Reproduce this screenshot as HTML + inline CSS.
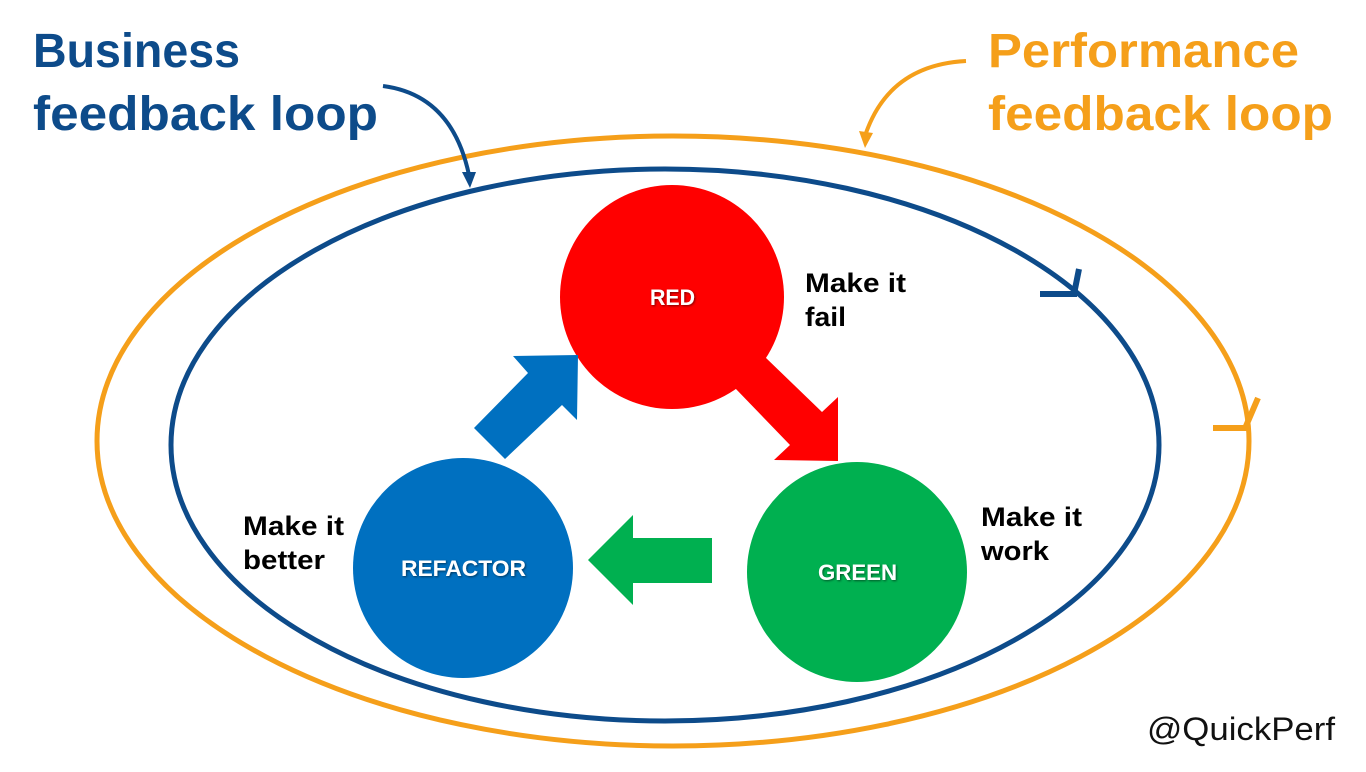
<!DOCTYPE html>
<html><head><meta charset="utf-8"><style>
html,body{margin:0;padding:0;background:#fff;}
svg{display:block;font-family:"Liberation Sans",sans-serif;}
</style></head><body>
<svg width="1366" height="772" viewBox="0 0 1366 772" xmlns="http://www.w3.org/2000/svg">
<defs>
<filter id="sh" x="-20%" y="-20%" width="140%" height="140%"><feDropShadow dx="1" dy="1" stdDeviation="1" flood-color="#000" flood-opacity="0.5"/></filter>
</defs>
<ellipse cx="673" cy="441" rx="576" ry="305" fill="none" stroke="#f59f1a" stroke-width="5"/>
<ellipse cx="665" cy="445" rx="494" ry="276" fill="none" stroke="#0d4b8a" stroke-width="5"/>
<path d="M1040 294 L1077 294 M1079 269 L1074 294" stroke="#0d4b8a" stroke-width="6" fill="none"/>
<path d="M1213 428 L1248 428 M1258 398 L1246 426" stroke="#f59f1a" stroke-width="6" fill="none"/>
<path d="M383 86 Q452 95 469 175" stroke="#0d4b8a" stroke-width="4" fill="none"/>
<polygon points="462,172 476,172 470,188" fill="#0d4b8a"/>
<path d="M966 61 Q890 65 866 133" stroke="#f59f1a" stroke-width="4" fill="none"/>
<polygon points="859,131 873,133 865,148" fill="#f59f1a"/>
<circle cx="672" cy="297" r="112" fill="#ff0000"/>
<circle cx="857" cy="572" r="110" fill="#00b050"/>
<circle cx="463" cy="568" r="110" fill="#0070c0"/>
<polygon points="474,428 528,373 513,356 578,355 577,420 562,405 505,459" fill="#0070c0"/>
<polygon points="735,388 765,357 822,412 838,397 838,461 774,460 790,445" fill="#ff0000"/>
<polygon points="712,538 633,538 633,515 588,560 633,605 633,583 712,583" fill="#00b050"/>
<g fill="#fff" font-weight="bold" font-size="22" filter="url(#sh)">
<text x="650" y="305" textLength="45" lengthAdjust="spacingAndGlyphs">RED</text>
<text x="818" y="580" textLength="79" lengthAdjust="spacingAndGlyphs">GREEN</text>
<text x="401" y="576" textLength="125" lengthAdjust="spacingAndGlyphs">REFACTOR</text>
</g>
<g fill="#000" font-weight="bold" font-size="27">
<text x="805" y="292" textLength="101" lengthAdjust="spacingAndGlyphs">Make it</text>
<text x="805" y="326" textLength="41" lengthAdjust="spacingAndGlyphs">fail</text>
<text x="981" y="526" textLength="101" lengthAdjust="spacingAndGlyphs">Make it</text>
<text x="981" y="560" textLength="68" lengthAdjust="spacingAndGlyphs">work</text>
<text x="243" y="535" textLength="101" lengthAdjust="spacingAndGlyphs">Make it</text>
<text x="243" y="569" textLength="82" lengthAdjust="spacingAndGlyphs">better</text>
</g>
<g font-weight="bold" font-size="48">
<text x="33" y="67" fill="#0d4b8a" textLength="207" lengthAdjust="spacingAndGlyphs">Business</text>
<text x="33" y="130" fill="#0d4b8a" textLength="345" lengthAdjust="spacingAndGlyphs">feedback loop</text>
<text x="988" y="67" fill="#f59f1a" textLength="311" lengthAdjust="spacingAndGlyphs">Performance</text>
<text x="988" y="130" fill="#f59f1a" textLength="345" lengthAdjust="spacingAndGlyphs">feedback loop</text>
</g>
<text x="1147" y="740" font-size="32" fill="#111" textLength="188" lengthAdjust="spacingAndGlyphs">@QuickPerf</text>
</svg>
</body></html>
